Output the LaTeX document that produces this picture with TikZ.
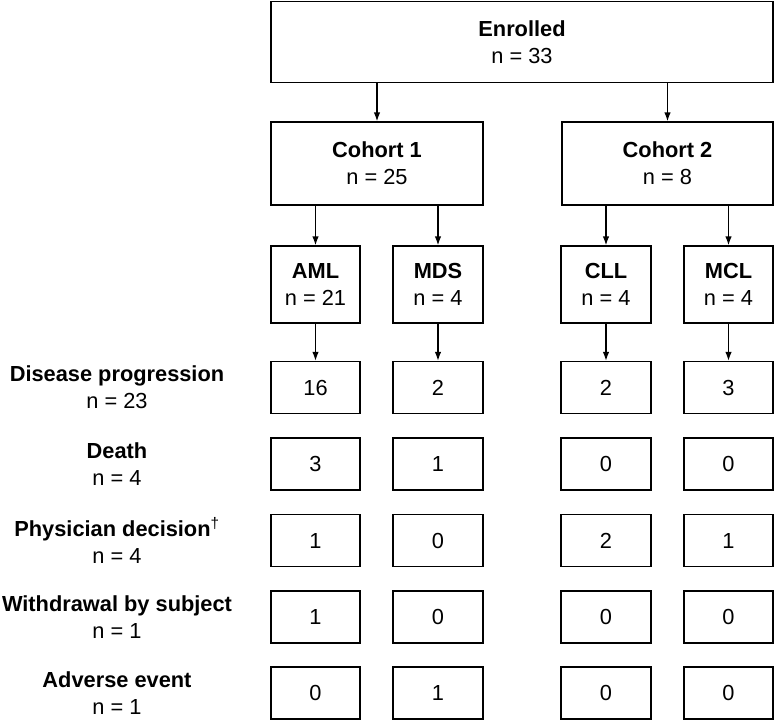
\documentclass[tikz,border=0pt]{standalone}
\usepackage{fontspec}
\setmainfont{Liberation Sans}
\usetikzlibrary{arrows.meta}
\begin{document}
\begin{tikzpicture}[x=1pt,y=-1pt,
  every node/.style={font=\fontsize{21.8}{27}\selectfont, align=center, inner sep=0pt},
  box/.style={draw, line width=1.3pt, rectangle},
  bigbox/.style={box, minimum height=81pt},
  cbox/.style={box, minimum height=83pt},
  sbox/.style={box, minimum height=77pt},
  rbox/.style={box, minimum height=52pt},
  arr/.style={line width=1.3pt, -{Latex[length=9pt,width=6.5pt]}},
  lab/.style={align=center}
]
\useasboundingbox (0,0) rectangle (775,720);
\node[bigbox, minimum width=502pt] (enr) at (522,42) {\textbf{Enrolled}\\n = 33};
\node[cbox, minimum width=212pt] (c1) at (377,163.5) {\textbf{Cohort 1}\\n = 25};
\node[cbox, minimum width=211pt] (c2) at (667.5,163.5) {\textbf{Cohort 2}\\n = 8};
\node[sbox, minimum width=89pt] (aml) at (315.5,284.5) {\textbf{AML}\\n = 21};
\node[sbox, minimum width=90pt] (mds) at (438,284.5) {\textbf{MDS}\\n = 4};
\node[sbox, minimum width=90pt] (cll) at (606,284.5) {\textbf{CLL}\\n = 4};
\node[sbox, minimum width=89pt] (mcl) at (728.5,284.5) {\textbf{MCL}\\n = 4};
\draw[arr] (c1.north |- enr.south) -- (c1.north);
\draw[arr] (c2.north |- enr.south) -- (c2.north);
\draw[arr] (aml.north |- c1.south) -- (aml.north);
\draw[arr] (mds.north |- c1.south) -- (mds.north);
\draw[arr] (cll.north |- c2.south) -- (cll.north);
\draw[arr] (mcl.north |- c2.south) -- (mcl.north);
% rows
\foreach \r/\y/\lbl/\n/\a/\b/\c/\d in {
  1/387.5/Disease progression/23/16/2/2/3,
  2/464/Death/4/3/1/0/0,
  3/540.5/Physician decision\textsuperscript{\normalfont\dag}/4/1/0/2/1,
  4/617/Withdrawal by subject/1/1/0/0/0,
  5/693/Adverse event/1/0/1/0/0} {
  \node[lab] (l\r) at (117,\y) {\textbf{\lbl}\\n = \n};
  \node[rbox, minimum width=89pt] (a\r) at (315.5,\y) {\a};
  \node[rbox, minimum width=90pt] (m\r) at (438,\y) {\b};
  \node[rbox, minimum width=90pt] (k\r) at (606,\y) {\c};
  \node[rbox, minimum width=89pt] (q\r) at (728.5,\y) {\d};
}
\draw[arr] (aml) -- (a1);
\draw[arr] (mds) -- (m1);
\draw[arr] (cll) -- (k1);
\draw[arr] (mcl) -- (q1);
\end{tikzpicture}
\end{document}
